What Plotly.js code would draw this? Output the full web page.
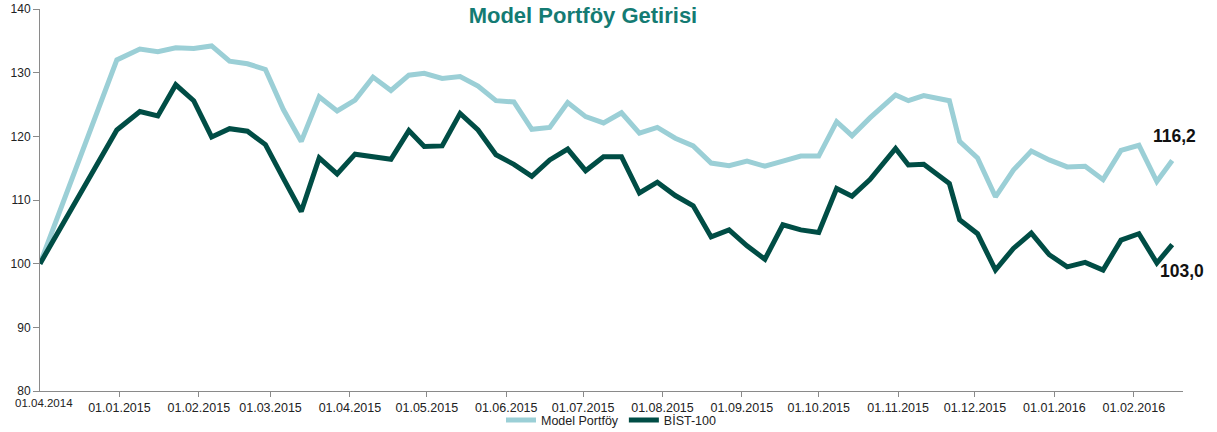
<!DOCTYPE html>
<html>
<head>
<meta charset="utf-8">
<script src="https://cdn.plot.ly/plotly-3.0.1.min.js"></script>
<style>html,body{margin:0;padding:0;background:#fff;}#chart{width:1217px;height:432px;}</style>
</head>
<body>
<div id="chart"></div>
<script>
const dates = [
 '2014-12-01','2014-12-31','2015-01-09','2015-01-16','2015-01-23','2015-01-30','2015-02-06','2015-02-13','2015-02-20','2015-02-27',
 '2015-03-06','2015-03-13','2015-03-20','2015-03-27','2015-04-03','2015-04-10','2015-04-17','2015-04-24','2015-04-30','2015-05-07',
 '2015-05-14','2015-05-21','2015-05-28','2015-06-04','2015-06-11','2015-06-18','2015-06-25','2015-07-02','2015-07-09','2015-07-16',
 '2015-07-23','2015-07-30','2015-08-06','2015-08-13','2015-08-20','2015-08-27','2015-09-03','2015-09-10','2015-09-17','2015-09-24',
 '2015-10-01','2015-10-08','2015-10-14','2015-10-21','2015-10-31','2015-11-05','2015-11-11','2015-11-21','2015-11-25','2015-12-02',
 '2015-12-09','2015-12-16','2015-12-23','2015-12-30','2016-01-06','2016-01-13','2016-01-20','2016-01-27','2016-02-03','2016-02-10','2016-02-16'
];
const modelPortfoy = [
 100, 132.0, 133.7, 133.3, 133.9, 133.8, 134.2, 131.8, 131.4, 130.5,
 124.2, 119.2, 126.2, 124.0, 125.7, 129.3, 127.2, 129.6, 129.9, 129.1,
 129.4, 127.9, 125.6, 125.4, 121.1, 121.4, 125.3, 123.1, 122.1, 123.7,
 120.5, 121.4, 119.7, 118.5, 115.8, 115.4, 116.1, 115.3, 116.1, 116.9,
 116.9, 122.3, 120.1, 122.9, 126.5, 125.6, 126.4, 125.6, 119.2, 116.6,
 110.5, 114.7, 117.7, 116.3, 115.2, 115.3, 113.2, 117.8, 118.6, 112.9, 116.2
];
const bist100 = [
 100, 121.0, 123.9, 123.2, 128.1, 125.6, 119.9, 121.2, 120.8, 118.7,
 113.4, 108.2, 116.6, 114.1, 117.2, 116.8, 116.4, 120.9, 118.4, 118.5,
 123.6, 121.0, 117.1, 115.6, 113.7, 116.3, 118.0, 114.6, 116.8, 116.8,
 111.1, 112.8, 110.7, 109.1, 104.2, 105.3, 102.8, 100.7, 106.1, 105.3,
 104.9, 111.8, 110.6, 113.2, 118.1, 115.5, 115.6, 112.6, 106.9, 104.7,
 99.0, 102.4, 104.8, 101.4, 99.5, 100.2, 99.0, 103.7, 104.7, 100.1, 103.0
];
const tickDates = ['2015-01-01','2015-02-01','2015-03-01','2015-04-01','2015-05-01','2015-06-01','2015-07-01',
 '2015-08-01','2015-09-01','2015-10-01','2015-11-01','2015-12-01','2016-01-01','2016-02-01'];
const tickLabels = ['01.01.2015','01.02.2015','01.03.2015','01.04.2015','01.05.2015','01.06.2015','01.07.2015',
 '01.08.2015','01.09.2015','01.10.2015','01.11.2015','01.12.2015','01.01.2016','01.02.2016'];
const startLabel = '01.04.2014';
const seriesNames = ['Model Portföy', 'BİST-100'];
const endLabels = ['116,2', '103,0'];
const titleText = 'Model Portföy Getirisi';

const lightColor = '#9bcfd6';
const darkColor = '#004d45';
const axisColor = '#8a8a8a';
const FONT = 'Liberation Sans, Arial, sans-serif';

const traces = [
  {x: dates, y: modelPortfoy, name: seriesNames[0], type: 'scatter', mode: 'lines',
   line: {color: lightColor, width: 5}, hoverinfo: 'skip'},
  {x: dates, y: bist100, name: seriesNames[1], type: 'scatter', mode: 'lines',
   line: {color: darkColor, width: 5}, hoverinfo: 'skip'}
];

const last = dates.length - 1;
const layout = {
  width: 1217, height: 432,
  margin: {l: 40, r: 34, t: 9, b: 41, pad: 0, autoexpand: false},
  paper_bgcolor: '#ffffff', plot_bgcolor: '#ffffff',
  font: {family: FONT, size: 12, color: '#222222'},
  title: {text: '<b>' + titleText + '</b>', font: {family: FONT, size: 22, color: '#147b73'},
          x: 0.479, xref: 'container', xanchor: 'center', y: 0.965, yref: 'container', yanchor: 'middle'},
  xaxis: {type: 'date', range: ['2014-12-01', '2016-02-20 05:00'], tickmode: 'array',
          tickvals: tickDates, ticktext: tickLabels, showline: true, linecolor: axisColor, linewidth: 1,
          ticks: 'outside', ticklen: 5, tickcolor: axisColor, showgrid: false, zeroline: false,
          ticklabelstandoff: 0,
          tickfont: {family: FONT, size: 12.5, color: '#222222'}, fixedrange: true},
  yaxis: {range: [80, 140], tick0: 80, dtick: 10, showline: true, linecolor: axisColor, linewidth: 1,
          ticks: 'outside', ticklen: 6, tickcolor: axisColor, showgrid: false, zeroline: false,
          tickfont: {family: FONT, size: 12, color: '#222222'}, fixedrange: true},
  showlegend: true,
  legend: {orientation: 'h', x: 0.5, xanchor: 'center', y: 0.027, yref: 'container', yanchor: 'middle',
           itemwidth: 30, font: {family: FONT, size: 12.5, color: '#222222'}, bgcolor: 'rgba(0,0,0,0)'},
  annotations: [
    {x: dates[last], y: modelPortfoy[last], xref: 'x', yref: 'y', text: '<b>' + endLabels[0] + '</b>',
     showarrow: false, xanchor: 'center', yanchor: 'middle', yshift: 25, xshift: 2,
     font: {family: FONT, size: 17.5, color: '#111111'}},
    {x: dates[last], y: bist100[last], xref: 'x', yref: 'y', text: '<b>' + endLabels[1] + '</b>',
     showarrow: false, xanchor: 'center', yanchor: 'middle', yshift: -26, xshift: 10,
     font: {family: FONT, size: 17.5, color: '#111111'}},
    {x: 0.0035, y: -0.031, xref: 'paper', yref: 'paper', text: startLabel, showarrow: false,
     xanchor: 'center', yanchor: 'middle', font: {family: FONT, size: 11.5, color: '#222222'}}
  ]
};

Plotly.newPlot('chart', traces, layout, {displayModeBar: false, staticPlot: true});
</script>
</body>
</html>
